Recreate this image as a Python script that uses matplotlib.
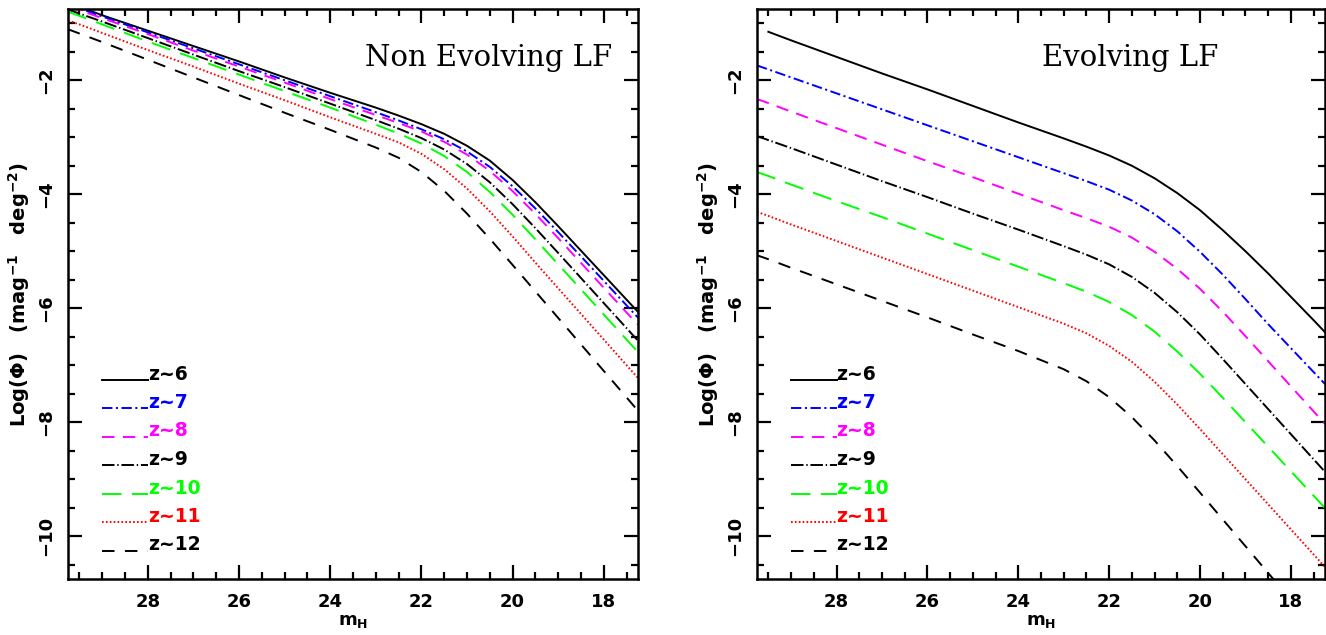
"""Number counts per magnitude for z~6-12 galaxies, non-evolving vs evolving LF."""

import matplotlib
matplotlib.use("Agg")
import matplotlib.pyplot as plt
from matplotlib.ticker import MultipleLocator
import numpy as np

# apparent H magnitude grid the curves are sampled on
m_h = [29.75, 29.5, 29.0, 28.0, 27.0, 26.0, 25.0, 24.0, 23.0, 22.5, 22.0,
       21.5, 21.0, 20.5, 20.0, 19.5, 19.0, 18.5, 18.0, 17.5, 17.25]

labels = ["z~6", "z~7", "z~8", "z~9", "z~10", "z~11", "z~12"]

# log(Phi) [mag^-1 deg^-2], non evolving luminosity function
noevo_z6 = [-0.64, -0.71, -0.86, -1.13, -1.40, -1.67, -1.95, -2.22, -2.48, -2.62, -2.77,
            -2.94, -3.15, -3.41, -3.75, -4.14, -4.56, -4.99, -5.42, -5.85, -6.065]
noevo_z7 = [-0.67, -0.74, -0.88, -1.16, -1.44, -1.72, -2.00, -2.28, -2.56, -2.705, -2.86,
            -3.035, -3.25, -3.52, -3.86, -4.25, -4.665, -5.09, -5.52, -5.95, -6.165]
noevo_z8 = [-0.70, -0.77, -0.91, -1.19, -1.48, -1.76, -2.04, -2.33, -2.61, -2.75, -2.90,
            -3.08, -3.305, -3.59, -3.945, -4.345, -4.77, -5.205, -5.64, -6.075, -6.29]
noevo_z9 = [-0.76, -0.83, -0.97, -1.26, -1.55, -1.84, -2.12, -2.41, -2.70, -2.85, -3.015,
            -3.215, -3.47, -3.79, -4.175, -4.595, -5.03, -5.47, -5.91, -6.35, -6.57]
noevo_z10 = [-0.80, -0.87, -1.02, -1.32, -1.61, -1.90, -2.19, -2.48, -2.78, -2.935, -3.11,
             -3.33, -3.61, -3.96, -4.36, -4.79, -5.23, -5.67, -6.11, -6.55, -6.77]
noevo_z11 = [-0.95, -1.02, -1.17, -1.47, -1.76, -2.06, -2.35, -2.65, -2.94, -3.09, -3.29,
             -3.56, -3.90, -4.30, -4.74, -5.20, -5.65, -6.10, -6.55, -7.00, -7.225]
noevo_z12 = [-1.105, -1.18, -1.33, -1.64, -1.95, -2.26, -2.57, -2.87, -3.18, -3.36, -3.61,
             -3.94, -4.34, -4.78, -5.24, -5.705, -6.17, -6.635, -7.10, -7.565, -7.80]

# log(Phi) [mag^-1 deg^-2], evolving luminosity function
evo_z6 = [np.nan, -1.15, -1.30, -1.59, -1.88, -2.16, -2.45, -2.74, -3.02, -3.165, -3.32,
          -3.50, -3.72, -3.98, -4.28, -4.63, -5.00, -5.39, -5.80, -6.21, -6.42]
evo_z7 = [-1.74, -1.81, -1.95, -2.23, -2.51, -2.79, -3.07, -3.35, -3.63, -3.77, -3.92,
          -4.11, -4.35, -4.65, -5.01, -5.41, -5.84, -6.28, -6.70, -7.12, -7.33]
evo_z8 = [-2.33, -2.40, -2.55, -2.84, -3.13, -3.42, -3.70, -3.99, -4.28, -4.42, -4.57,
          -4.76, -5.01, -5.31, -5.66, -6.06, -6.49, -6.93, -7.37, -7.81, -8.03]
evo_z9 = [-2.98, -3.05, -3.19, -3.48, -3.77, -4.05, -4.34, -4.62, -4.91, -5.06, -5.23,
          -5.45, -5.73, -6.07, -6.46, -6.89, -7.33, -7.77, -8.21, -8.65, -8.87]
evo_z10 = [-3.61, -3.68, -3.83, -4.12, -4.40, -4.69, -4.98, -5.27, -5.56, -5.71, -5.89,
           -6.12, -6.41, -6.76, -7.15, -7.57, -8.00, -8.43, -8.86, -9.29, -9.505]
evo_z11 = [-4.31, -4.38, -4.53, -4.82, -5.11, -5.40, -5.69, -5.98, -6.27, -6.44, -6.66,
           -6.94, -7.29, -7.69, -8.12, -8.56, -9.00, -9.44, -9.88, -10.32, -10.54]
evo_z12 = [-5.07, -5.14, -5.29, -5.58, -5.87, -6.16, -6.46, -6.75, -7.07, -7.28, -7.56,
           -7.91, -8.32, -8.77, -9.235, -9.705, -10.175, -10.645, -11.115, -11.585, -11.82]

# colour and dash pattern (points) per redshift
STYLES = [
    ("black", "-"),
    ("#0000ff", (0, (7.5, 2.5, 1.5, 2.5))),
    ("#ff00ff", (0, (9.0, 6.0))),
    ("black", (0, (9.0, 2.0, 1.0, 2.0))),
    ("#00ff00", (0, (14.0, 7.5))),
    ("#ff0000", (0, (1.2, 1.6))),
    ("black", (0, (9.0, 7.5))),
]

plt.rcParams["lines.scale_dashes"] = False
plt.rcParams["mathtext.default"] = "regular"

TICK_FONT = dict(family="DejaVu Sans", weight="bold", size=13)


def style_axes(ax: plt.Axes) -> None:
    """PGPLOT-like box: inward ticks on all sides, rotated y labels."""
    ax.xaxis.set_major_locator(MultipleLocator(2))
    ax.xaxis.set_minor_locator(MultipleLocator(0.5))
    ax.yaxis.set_major_locator(MultipleLocator(2))
    ax.yaxis.set_minor_locator(MultipleLocator(0.5))
    ax.tick_params(which="both", direction="in", top=True, right=True, width=1.6)
    ax.tick_params(which="major", length=10)
    ax.tick_params(which="minor", length=5)
    ax.tick_params(axis="x", pad=10)
    ax.tick_params(axis="y", pad=9)
    for spine in ax.spines.values():
        spine.set_linewidth(1.8)
    xt = [18, 20, 22, 24, 26, 28]
    yt = [-10, -8, -6, -4, -2]
    ax.set_xticks(xt)
    ax.set_xticklabels([f"{t:g}" for t in xt], fontdict=TICK_FONT)
    ax.set_yticks(yt)
    ax.set_yticklabels([f"\u2212{abs(t):g}" for t in yt], fontdict=TICK_FONT,
                       rotation=90, va="center", ha="right")
    ax.set_xlim(29.75, 17.25)
    ax.set_ylim(-10.75, -0.75)
    ax.set_xlabel(r"m$_{H}$", fontsize=13, fontweight="bold", family="DejaVu Sans", labelpad=1)
    ax.set_ylabel(r"Log($\Phi$)   (mag$^{-1}$   deg$^{-2}$)", fontsize=14, fontweight="bold",
                  family="DejaVu Sans", labelpad=4)


def plot_panel(ax: plt.Axes, curves: list, title: str, title_x: float, title_ha: str) -> None:
    """Draw the seven redshift curves, the in-panel key and the panel title."""
    for row, (series, (color, ls), label) in enumerate(zip(curves, STYLES, labels)):
        ax.plot(m_h, series, color=color, linestyle=ls, linewidth=1.4)
        y_key = -7.25 - 0.5 * row
        ax.plot([29.0, 28.0], [y_key, y_key], color=color, linestyle=ls, linewidth=1.4)
        ax.text(28.0, y_key, label, color=color, ha="left", va="baseline",
                family="DejaVu Sans", weight="bold", fontsize=13.5)
    ax.text(title_x, 0.914, title, transform=ax.transAxes, ha=title_ha, va="center",
            family="DejaVu Serif", fontsize=21)
    style_axes(ax)


def main() -> None:
    fig = plt.figure(figsize=(13.26, 6.35), dpi=100)
    ax_left = fig.add_axes([68 / 1326, 56 / 635, 570 / 1326, 570 / 635])
    ax_right = fig.add_axes([757 / 1326, 56 / 635, 568 / 1326, 570 / 635])

    plot_panel(ax_left, [noevo_z6, noevo_z7, noevo_z8, noevo_z9, noevo_z10, noevo_z11, noevo_z12],
               "Non Evolving LF", 0.954, "right")
    plot_panel(ax_right, [evo_z6, evo_z7, evo_z8, evo_z9, evo_z10, evo_z11, evo_z12],
               "Evolving LF", 0.657, "center")

    fig.savefig("out.png", dpi=100)


if __name__ == "__main__":
    main()
